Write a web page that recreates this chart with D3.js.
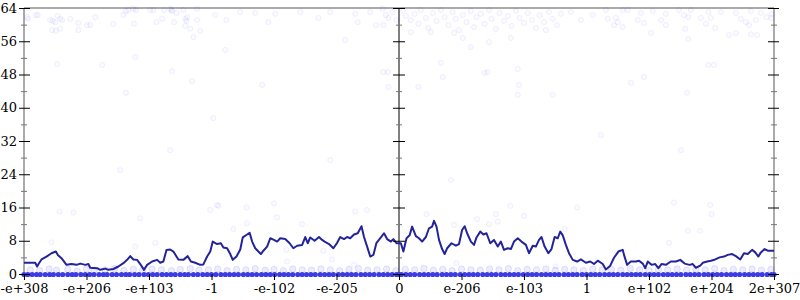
<!DOCTYPE html>
<html>
<head>
<meta charset="utf-8">
<script src="https://cdn.jsdelivr.net/npm/d3@7"></script>
<style>
  body { margin: 0; background: #fff; }
  svg { display: block; }
  .tick text { font-family: "DejaVu Serif", "Liberation Serif", serif; font-size: 13px; fill: #000; }
  .major .tick line { stroke: #000; }
  .minor .tick line { stroke: #777; }
  .dot { fill: rgba(0, 0, 255, 0.02); stroke: rgba(0, 0, 255, 0.06); }
  .band { fill: rgba(0, 0, 255, 0.07); stroke: rgba(0, 0, 255, 0.1); }
  .floor { fill: #3c3ce0; stroke: none; }
</style>
</head>
<body>
<script>
const w = 800;
const h = 300;
const plotLeft = 24;
const plotRight = 774;
const plotTop = 8;
const plotBottom = 274;

const xTickLabels = ['-e+308', '-e+206', '-e+103', '-1', '-e-102', '-e-205', '0',
  'e-206', 'e-103', '1', 'e+102', 'e+204', '2e+307'];
const xTickValues = [0, 1, 2, 3, 4, 5, 6, 7, 8, 9, 10, 11, 12];
const yMajorTicks = [0, 8, 16, 24, 32, 40, 48, 56, 64];
const yMinorTicks = [4, 12, 20, 28, 36, 44, 52, 60];

// moving average line [x, value]
const avgLine = [
  [0, 2.7], [0.18, 2.7], [0.21, 1.8], [0.24, 2.6], [0.28, 3.5], [0.36, 4.2], [0.44, 5.0], [0.51, 5.4],
  [0.54, 4.6], [0.60, 3.8], [0.68, 2.2], [0.76, 2.4], [0.84, 2.2], [0.90, 2.5], [0.98, 2.2], [1.03, 2.4],
  [1.06, 1.5], [1.17, 1.4], [1.22, 1.0], [1.30, 1.3], [1.35, 1.0], [1.43, 1.2], [1.51, 1.8], [1.59, 2.6],
  [1.65, 3.4], [1.70, 4.3], [1.75, 3.5], [1.81, 3.4], [1.86, 2.4], [1.92, 1.0], [1.97, 2.2], [2.05, 3.0],
  [2.13, 3.4], [2.18, 2.7], [2.23, 3.0], [2.28, 5.8], [2.34, 5.9], [2.39, 5.4], [2.47, 3.5], [2.55, 3.4],
  [2.62, 4.3], [2.67, 3.0], [2.74, 2.7], [2.82, 2.2], [2.87, 2.3], [2.93, 4.2], [2.98, 5.4], [3.02, 7.8],
  [3.09, 7.2], [3.15, 7.4], [3.19, 6.4], [3.25, 6.2], [3.30, 4.8], [3.34, 3.4], [3.40, 4.2], [3.46, 5.9],
  [3.50, 8.8], [3.57, 9.5], [3.61, 9.9], [3.65, 7.8], [3.70, 6.2], [3.75, 5.4], [3.79, 4.8], [3.83, 5.6],
  [3.89, 6.6], [3.94, 8.6], [4.00, 8.2], [4.05, 7.8], [4.10, 8.6], [4.18, 8.4], [4.25, 7.4], [4.31, 6.2],
  [4.37, 6.8], [4.45, 7.0], [4.50, 8.9], [4.54, 7.4], [4.58, 8.8], [4.65, 8.0], [4.72, 8.9], [4.77, 8.2],
  [4.81, 7.8], [4.88, 7.2], [4.95, 6.2], [5.01, 7.5], [5.06, 8.9], [5.12, 8.4], [5.17, 8.9], [5.22, 8.6],
  [5.28, 9.5], [5.34, 9.8], [5.40, 11.5], [5.44, 8.9], [5.49, 6.6], [5.54, 4.2], [5.59, 4.6], [5.64, 7.5],
  [5.71, 8.8], [5.76, 9.8], [5.81, 8.4], [5.87, 7.8], [5.91, 8.4], [5.96, 7.4], [6.03, 7.4], [6.07, 5.4],
  [6.12, 8.6], [6.17, 9.3], [6.21, 11.4], [6.27, 9.1], [6.32, 8.6], [6.37, 7.8], [6.43, 8.9], [6.48, 11.0],
  [6.53, 11.4], [6.56, 12.8], [6.60, 11.4], [6.64, 8.2], [6.69, 6.0], [6.73, 4.8], [6.77, 6.2], [6.84, 7.4],
  [6.91, 6.8], [6.96, 7.2], [7.01, 10.6], [7.05, 11.5], [7.09, 9.8], [7.15, 7.8], [7.20, 7.0], [7.24, 8.8],
  [7.30, 10.2], [7.35, 9.5], [7.40, 9.8], [7.46, 7.4], [7.52, 8.2], [7.58, 6.6], [7.63, 7.8], [7.68, 5.8],
  [7.74, 6.2], [7.79, 6.0], [7.84, 7.8], [7.90, 8.6], [7.96, 7.8], [8.03, 7.0], [8.08, 5.0], [8.14, 6.8],
  [8.19, 6.6], [8.24, 8.2], [8.28, 8.9], [8.33, 6.6], [8.39, 5.0], [8.44, 6.0], [8.49, 8.9], [8.54, 8.6],
  [8.58, 10.2], [8.62, 9.3], [8.67, 7.0], [8.72, 5.0], [8.78, 3.4], [8.85, 3.0], [8.91, 3.5], [8.99, 2.7],
  [9.06, 3.0], [9.12, 2.4], [9.18, 3.2], [9.26, 2.4], [9.31, 1.1], [9.38, 2.0], [9.44, 3.9], [9.51, 5.4],
  [9.58, 5.8], [9.60, 4.6], [9.65, 2.2], [9.71, 3.0], [9.79, 3.0], [9.84, 3.2], [9.90, 2.5], [9.94, 1.4],
  [9.98, 3.0], [10.04, 2.2], [10.10, 2.4], [10.15, 1.4], [10.20, 2.4], [10.27, 2.2], [10.35, 3.0], [10.43, 3.0],
  [10.50, 3.4], [10.57, 2.5], [10.65, 2.2], [10.70, 2.4], [10.75, 1.5], [10.82, 2.0], [10.86, 2.7], [10.93, 3.0],
  [10.99, 3.2], [11.06, 3.5], [11.13, 4.0], [11.20, 4.2], [11.26, 4.6], [11.33, 4.8], [11.39, 4.3], [11.46, 3.5],
  [11.52, 5.0], [11.58, 4.8], [11.65, 5.8], [11.70, 5.2], [11.75, 4.2], [11.79, 5.2], [11.85, 6.0], [11.90, 5.6],
  [12.00, 5.6]
];

// samples near the top of the range
const topPoints = [
  [0.05, 61.8], [0.06, 61.4], [0.19, 62.3], [0.22, 62.3], [0.42, 61.1], [0.46, 60.9], [0.50, 60.6], [0.54, 62.1],
  [0.58, 61.4], [0.61, 61.1], [0.74, 61.4], [0.87, 60.4], [0.87, 58.7], [0.45, 58.7], [0.51, 58.5], [0.58, 59.0],
  [1.01, 59.9], [1.06, 59.9], [1.14, 61.8], [1.43, 60.2], [1.59, 62.3], [1.63, 63.3], [1.67, 63.5], [1.75, 63.8],
  [1.79, 63.5], [1.76, 60.2], [2.02, 63.5], [2.07, 63.5], [2.12, 60.6], [2.21, 61.4], [2.24, 63.5], [2.34, 63.8],
  [2.36, 63.5], [2.37, 63.3], [2.44, 62.8], [2.40, 60.6], [2.55, 63.5], [2.58, 61.4], [2.60, 60.9], [2.58, 59.7],
  [2.66, 59.0], [2.61, 61.8], [2.77, 63.8], [2.77, 61.1], [2.82, 58.5], [2.71, 57.0],
  [3.06, 62.3], [3.24, 61.1], [3.46, 63.0], [3.70, 62.8], [3.91, 60.6], [4.02, 62.6], [4.42, 63.0], [4.71, 61.6],
  [4.90, 63.0], [5.14, 56.3], [5.30, 62.6], [5.34, 60.6], [5.54, 63.0], [5.63, 59.9],
  [5.74, 63.8], [5.79, 62.3], [5.83, 61.6], [5.75, 59.9], [5.90, 63.0], [5.96, 61.1], [6.06, 63.5], [6.11, 62.1],
  [6.19, 61.1], [6.25, 62.6], [6.31, 60.2], [6.35, 63.5], [6.43, 61.6], [6.47, 59.2], [6.54, 62.8], [6.60, 60.9],
  [6.67, 63.5], [6.73, 61.8], [6.79, 59.9], [6.86, 63.0], [6.91, 61.4], [6.96, 58.7], [7.02, 62.3], [7.08, 60.6],
  [7.15, 63.3], [7.20, 59.4], [7.24, 61.8], [7.31, 62.6], [7.37, 60.2], [7.44, 63.5], [7.48, 61.4], [7.55, 59.0],
  [7.61, 62.8], [7.68, 60.9], [7.74, 62.1], [7.80, 59.7], [7.87, 63.3], [7.93, 61.6], [8.00, 60.4], [8.06, 62.8],
  [8.13, 61.1], [8.19, 59.2], [8.25, 62.3], [8.32, 60.6], [8.40, 63.0], [8.46, 61.4], [8.53, 59.9], [8.59, 62.6],
  [6.51, 58.2], [6.88, 58.0], [7.02, 56.8], [7.15, 54.6], [7.44, 55.8], [7.79, 56.8], [8.35, 58.7], [6.19, 58.2],
  [8.75, 63.0], [8.91, 61.1], [9.10, 62.3],
  [9.31, 63.5], [9.34, 61.4], [9.47, 61.6], [9.44, 59.9], [9.50, 60.6], [9.58, 63.5], [9.58, 59.4], [9.66, 63.5],
  [9.82, 61.1], [9.87, 62.8], [9.92, 60.4], [10.06, 63.3], [10.19, 61.1], [10.27, 62.6], [10.27, 59.9], [10.48, 63.5],
  [10.56, 62.3], [10.63, 61.8], [10.58, 59.0], [10.67, 63.5], [10.83, 61.6], [10.91, 60.2], [10.95, 63.0], [10.99, 61.6],
  [11.06, 59.2], [11.15, 63.0], [11.28, 57.5], [11.39, 62.8], [11.39, 58.0], [11.47, 61.4], [11.55, 60.6], [11.60, 59.9],
  [11.63, 63.3], [11.63, 57.7], [11.71, 61.1], [11.73, 57.5], [11.79, 62.8], [11.88, 61.8], [11.96, 62.6], [11.96, 61.6],
  [10.63, 56.5], [10.03, 58.0]
];

// sparse samples in the middle of the range
const midPoints = [
  [0.53, 50.5], [1.25, 50.3], [1.78, 52.2], [1.63, 43.6], [2.37, 48.8], [2.69, 46.4], [3.22, 53.9], [3.81, 45.5],
  [6.67, 50.8], [7.37, 48.4], [7.42, 48.6], [5.75, 48.6], [5.82, 48.6], [7.90, 49.3], [6.70, 47.4], [7.92, 45.5],
  [5.83, 45.0], [6.31, 45.0], [7.90, 43.1], [8.46, 43.1], [11.04, 50.3], [10.95, 50.3], [9.92, 47.4], [9.71, 46.0],
  [10.61, 43.6], [3.03, 37.5], [2.34, 29.8], [4.90, 27.4], [9.23, 33.4], [6.83, 22.6], [10.51, 29.8], [1.54, 25.0],
  [0.57, 15.0], [0.79, 14.8], [0.44, 7.6], [1.86, 13.4], [1.78, 6.6], [2.10, 7.5], [3.09, 16.6], [3.11, 16.4],
  [2.98, 15.4], [3.56, 16.0], [4.00, 17.0], [4.05, 13.6], [3.57, 12.2], [3.35, 10.8], [4.45, 12.0], [4.21, 3.0],
  [4.20, 5.8], [5.30, 15.0], [5.49, 15.4], [4.79, 5.6], [4.93, 3.5], [6.44, 14.4], [6.88, 11.8], [6.92, 2.6],
  [5.28, 2.2], [7.78, 16.4], [8.85, 16.0], [7.25, 13.2], [7.55, 14.4], [7.58, 12.6], [7.44, 12.0], [8.00, 14.0],
  [8.65, 10.8], [8.51, 1.8], [10.40, 17.2], [10.98, 16.6], [11.00, 14.4], [10.62, 10.4], [10.82, 10.4], [10.32, 7.5]
];

// faint band just above zero
const lowBand = [
  [0.1, 1.0], [0.25, 0.8], [0.4, 1.2], [0.52, 0.9], [0.7, 1.1], [0.85, 0.7], [1.0, 1.2], [1.12, 0.9],
  [1.3, 1.0], [1.45, 1.3], [1.6, 0.8], [1.75, 1.1], [1.9, 0.9], [2.05, 1.2], [2.2, 1.0], [2.36, 0.8],
  [2.5, 1.1], [2.66, 1.3], [2.8, 0.9], [2.95, 1.0], [3.1, 1.2], [3.25, 0.8], [3.4, 1.1], [3.55, 1.0],
  [3.7, 1.3], [3.86, 0.9], [4.0, 1.1], [4.15, 0.8], [4.3, 1.2], [4.45, 1.0], [4.6, 0.9], [4.75, 1.2],
  [4.9, 1.0], [5.05, 0.8], [5.2, 1.1], [5.35, 1.3], [5.5, 0.9], [5.65, 1.0], [5.8, 1.2], [5.95, 0.8],
  [6.1, 1.1], [6.25, 1.0], [6.4, 1.3], [6.55, 0.9], [6.7, 1.1], [6.85, 0.8], [7.0, 1.2], [7.15, 1.0],
  [7.3, 0.9], [7.45, 1.2], [7.6, 1.0], [7.75, 1.3], [7.9, 0.8], [8.05, 1.1], [8.2, 1.0], [8.35, 1.2],
  [8.5, 0.9], [8.65, 1.1], [8.8, 1.0], [8.95, 0.8], [9.1, 1.2], [9.25, 1.0], [9.4, 1.1], [9.55, 0.9],
  [9.7, 1.3], [9.85, 1.0], [10.0, 0.8], [10.15, 1.1], [10.3, 1.0], [10.45, 1.2], [10.6, 0.9], [10.75, 1.1],
  [10.9, 1.0], [11.05, 1.3], [11.2, 0.8], [11.35, 1.1], [11.5, 1.0], [11.65, 1.2], [11.8, 0.9], [11.95, 1.1]
];

// x positions of the many samples sitting at zero
const floorX = [
  0, 0.06, 0.13, 0.2, 0.26, 0.34, 0.41, 0.47, 0.55, 0.62, 0.7, 0.77, 0.83, 0.91, 0.98, 1.05, 1.12, 1.2,
  1.27, 1.33, 1.41, 1.48, 1.56, 1.63, 1.69, 1.77, 1.84, 1.92, 1.99, 2.06, 2.13, 2.21, 2.28, 2.35, 2.42, 2.5,
  2.57, 2.63, 2.71, 2.78, 2.86, 2.93, 3.0, 3.07, 3.15, 3.22, 3.29, 3.36, 3.43, 3.51, 3.58, 3.65, 3.72, 3.8,
  3.87, 3.94, 4.01, 4.09, 4.16, 4.23, 4.3, 4.38, 4.45, 4.52, 4.59, 4.66, 4.74, 4.81, 4.88, 4.95, 5.03, 5.1,
  5.17, 5.24, 5.31, 5.39, 5.46, 5.53, 5.6, 5.68, 5.75, 5.82, 5.89, 5.96, 6.0, 6.04, 6.11, 6.18, 6.25, 6.33,
  6.4, 6.47, 6.54, 6.61, 6.69, 6.76, 6.83, 6.9, 6.98, 7.05, 7.12, 7.19, 7.26, 7.34, 7.41, 7.48, 7.55, 7.63,
  7.7, 7.77, 7.84, 7.91, 7.99, 8.06, 8.13, 8.2, 8.28, 8.35, 8.42, 8.49, 8.56, 8.64, 8.71, 8.78, 8.85, 8.93,
  9.0, 9.07, 9.14, 9.21, 9.29, 9.36, 9.43, 9.5, 9.58, 9.65, 9.72, 9.79, 9.86, 9.94, 10.01, 10.08, 10.15, 10.23,
  10.3, 10.37, 10.44, 10.51, 10.59, 10.66, 10.73, 10.8, 10.88, 10.95, 11.02, 11.09, 11.16, 11.24, 11.31, 11.38,
  11.45, 11.53, 11.6, 11.67, 11.74, 11.81, 11.89, 11.96, 12.0
];

const xScale = d3.scaleLinear().domain([0, 12]).range([plotLeft, plotRight]);
const yScale = d3.scaleLinear().domain([0, 64]).range([plotBottom, plotTop]);
const xMid = xScale(6);

const svg = d3.select('body').append('svg').attr('width', w).attr('height', h);

// frame: gray top line and side axes
svg.append('line')
  .attr('x1', plotLeft).attr('x2', plotRight).attr('y1', plotTop).attr('y2', plotTop)
  .attr('stroke', '#aaa').attr('stroke-width', 2);
[plotLeft, plotRight].forEach(x => {
  svg.append('line')
    .attr('x1', x).attr('x2', x).attr('y1', plotTop).attr('y2', plotBottom)
    .attr('stroke', '#aaa').attr('stroke-width', 2);
});
svg.append('line')
  .attr('x1', xMid).attr('x2', xMid).attr('y1', plotTop).attr('y2', plotBottom)
  .attr('stroke', '#000').attr('stroke-width', 1);

// scatter
const dots = svg.append('g');
dots.selectAll('circle.dot')
  .data(topPoints.concat(midPoints))
  .join('circle')
  .attr('class', 'dot')
  .attr('cx', d => xScale(d[0]))
  .attr('cy', d => yScale(d[1]))
  .attr('r', 2.6);

dots.selectAll('circle.band')
  .data(lowBand)
  .join('circle')
  .attr('class', 'band')
  .attr('cx', d => xScale(d[0]))
  .attr('cy', d => yScale(d[1]))
  .attr('r', 3.2);

dots.selectAll('circle.floor')
  .data(floorX)
  .join('circle')
  .attr('class', 'floor')
  .attr('cx', d => xScale(d))
  .attr('cy', yScale(0) + 0.5)
  .attr('r', 2.6);

// moving average
svg.append('path')
  .datum(avgLine)
  .attr('fill', 'none')
  .attr('stroke', '#24249a')
  .attr('stroke-width', 2)
  .attr('stroke-linejoin', 'round')
  .attr('d', d3.line().x(d => xScale(d[0])).y(d => yScale(d[1])));

// y ticks on the three vertical axes
const addY = (x, size, values, labels, cls) => {
  const g = svg.append('g')
    .attr('class', cls)
    .attr('transform', `translate(${x},0)`)
    .call(d3.axisLeft(yScale).tickValues(values).tickSize(size).tickPadding(2)
      .tickFormat(labels ? d3.format('d') : ''));
  g.select('.domain').remove();
};
addY(plotLeft + 6, 11, yMajorTicks, true, 'major');
addY(plotLeft + 3, 6, yMinorTicks, false, 'minor');
addY(xMid + 6, 12, yMajorTicks, false, 'major');
addY(xMid + 3, 6, yMinorTicks, false, 'minor');
addY(plotRight + 5, 11, yMajorTicks, false, 'major');
addY(plotRight + 3, 6, yMinorTicks, false, 'minor');

// x axis
const xAxis = svg.append('g')
  .attr('class', 'major')
  .attr('transform', `translate(0,${plotBottom})`)
  .call(d3.axisBottom(xScale).tickValues(xTickValues).tickSize(6).tickPadding(4)
    .tickFormat((d, i) => xTickLabels[i]));
xAxis.select('.domain').remove();
</script>
</body>
</html>
